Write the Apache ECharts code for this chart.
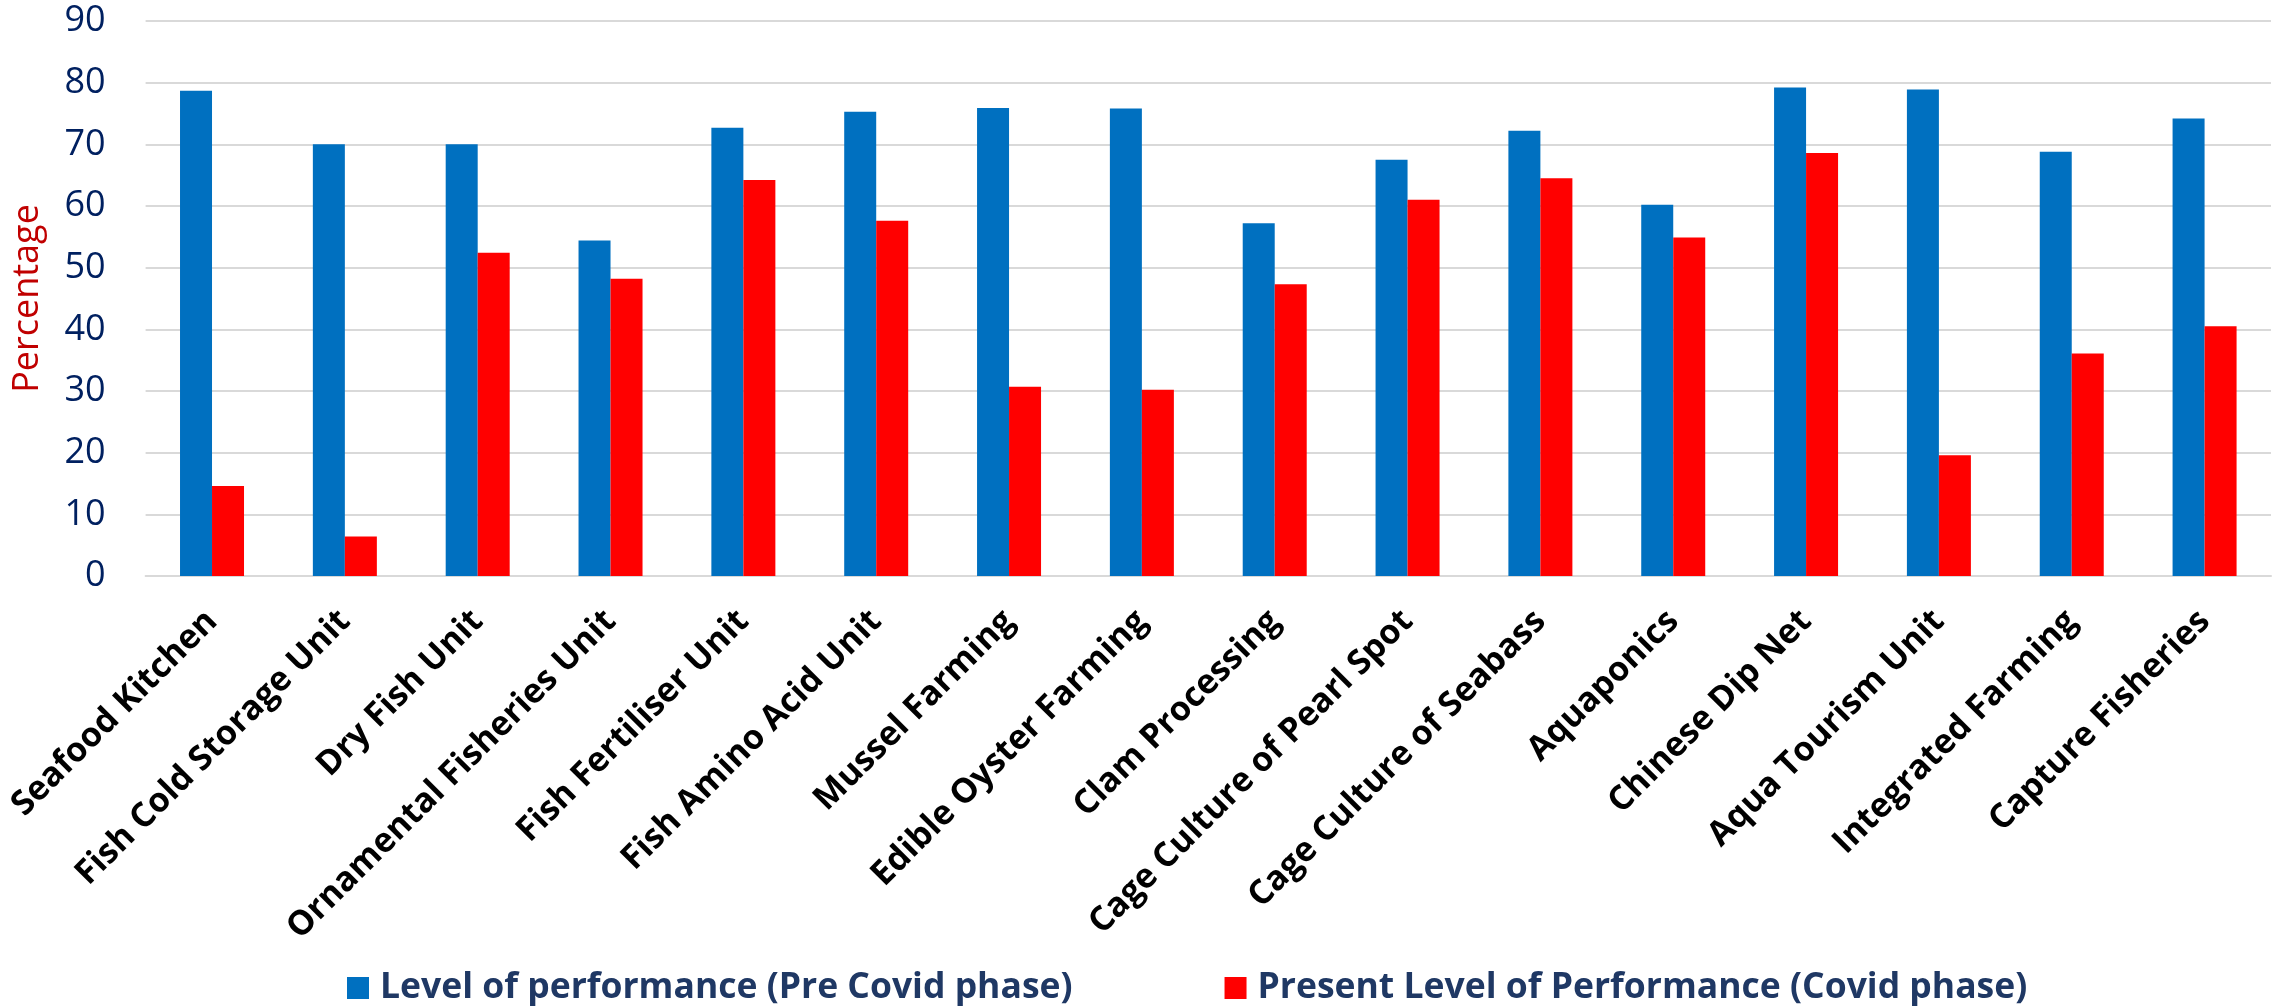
<!DOCTYPE html>
<html>
<head>
<meta charset="utf-8">
<script src="https://cdn.jsdelivr.net/npm/echarts@6/dist/echarts.min.js"></script>
<style>
html,body{margin:0;padding:0;background:#fff;}
#chart{width:2282px;height:1006px;}
</style>
</head>
<body>
<div id="chart"></div>
<script>
const categories = ["Seafood Kitchen","Fish Cold Storage Unit","Dry Fish Unit","Ornamental Fisheries Unit","Fish Fertiliser Unit","Fish Amino Acid Unit","Mussel Farming","Edible Oyster Farming","Clam Processing","Cage Culture of Pearl Spot","Cage Culture of Seabass","Aquaponics","Chinese Dip Net","Aqua Tourism Unit","Integrated Farming","Capture Fisheries"];
const preCovid = [78.7, 70.0, 70.0, 54.4, 72.7, 75.3, 75.9, 75.8, 57.2, 67.5, 72.2, 60.2, 79.2, 78.9, 68.8, 74.2];
const covid = [14.6, 6.4, 52.4, 48.2, 64.2, 57.6, 30.7, 30.2, 47.3, 61.0, 64.5, 54.9, 68.6, 19.6, 36.1, 40.5];
const seriesNames = ["Level of performance (Pre Covid phase)", "Present Level of Performance (Covid phase)"];
const yTicks = {min: 0, max: 90, interval: 10};

const chart = echarts.init(document.getElementById('chart'));
chart.setOption({
  animation: false,
  textStyle: {fontFamily: 'Open Sans'},
  grid: {left: 145.6, right: 11, top: 21, bottom: 430, containLabel: false},
  legend: {
    left: 342, top: 965,
    itemWidth: 22, itemHeight: 22, itemGap: 152,
    icon: 'rect',
    textStyle: {fontFamily: 'Open Sans', fontWeight: 'bold', fontSize: 35.5, color: '#1F3864', padding: [0,0,0,6]},
    data: seriesNames
  },
  xAxis: {
    type: 'category',
    data: categories,
    axisLine: {lineStyle: {color: '#D9D9D9', width: 2}},
    axisTick: {show: false},
    axisLabel: {rotate: 45, interval: 0, margin: 40, color: '#000', fontWeight: 'bold', fontSize: 34, fontFamily: 'Open Sans'}
  },
  yAxis: {
    type: 'value',
    min: yTicks.min, max: yTicks.max, interval: yTicks.interval,
    name: 'Percentage',
    nameLocation: 'middle',
    nameGap: 100,
    nameTextStyle: {color: '#C00000', fontSize: 36, fontFamily: 'Open Sans'},
    axisLine: {show: false},
    axisTick: {show: false},
    splitLine: {lineStyle: {color: '#D9D9D9', width: 2}},
    axisLabel: {color: '#002060', fontSize: 36, margin: 40, fontFamily: 'Open Sans'}
  },
  series: [
    {name: seriesNames[0], type: 'bar', data: preCovid, barWidth: 32, barGap: '0%', itemStyle: {color: '#0070C0'}},
    {name: seriesNames[1], type: 'bar', data: covid, barWidth: 32, barGap: '0%', itemStyle: {color: '#FF0000'}}
  ]
});
</script>
</body>
</html>
